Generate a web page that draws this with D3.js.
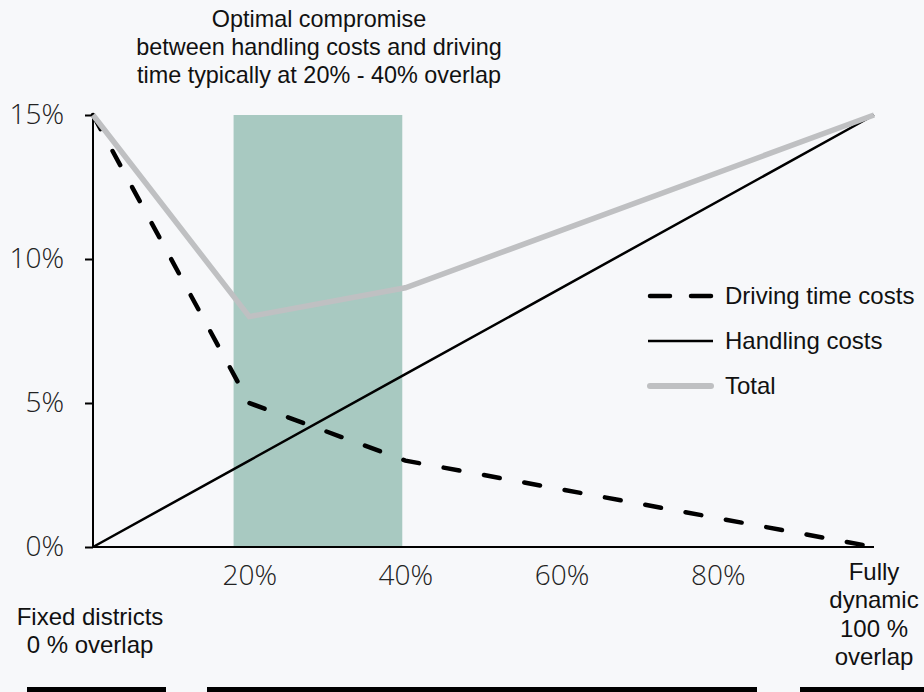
<!DOCTYPE html>
<html>
<head>
<meta charset="utf-8">
<script src="https://cdn.jsdelivr.net/npm/d3@7"></script>
<style>
  html, body { margin: 0; padding: 0; background: #f7f8fa; }
  svg { display: block; }
</style>
</head>
<body>
<svg id="chart" width="924" height="692"></svg>
<script>
// Overlap share (%) at which each cost curve has a vertex
const overlap = [0, 20, 40, 100];
// Cost shares (%) per series at those overlap levels
const drivingCosts = [15, 5, 3, 0];
const handlingCosts = [0, 3, 6, 15];
const totalCosts = [15, 8, 9, 15];

const yTickValues = [0, 5, 10, 15];
const xTickValues = [20, 40, 60, 80];
// Typical optimum range of overlap (%)
const optimumRange = [18, 39.6];

const titleLines = ["Optimal compromise", "between handling costs and driving", "time typically at 20% - 40% overlap"];
const leftLabel = ["Fixed districts", "0 % overlap"];
const rightLabel = ["Fully", "dynamic", "100 %", "overlap"];
const legendItems = ["Driving time costs", "Handling costs", "Total"];

const svg = d3.select("#chart");
const W = 924, H = 692;

svg.append("rect").attr("width", W).attr("height", H).attr("fill", "#f7f8fa");

const x = d3.scaleLinear().domain([0, 100]).range([93, 874]);
const y = d3.scaleLinear().domain([0, 15]).range([547, 115]);

const sansFont = "'Liberation Sans', Arial, sans-serif";
const tickFont = "'Open Sans', sans-serif";

// Optimum band
svg.append("rect")
  .attr("x", x(optimumRange[0]))
  .attr("y", y(15))
  .attr("width", x(optimumRange[1]) - x(optimumRange[0]))
  .attr("height", y(0) - y(15))
  .attr("fill", "#a8c9c1");

// Y axis
const yAxis = svg.append("g")
  .attr("transform", `translate(${x(0)},0)`)
  .call(d3.axisLeft(y).tickValues(yTickValues).tickFormat(d => d + "%").tickSize(8).tickPadding(21));
yAxis.select(".domain").attr("stroke", "#000").attr("stroke-width", 2).attr("d", `M0,${y(15)}V${y(0)}`);
yAxis.selectAll(".tick line").attr("stroke", "#000").attr("stroke-width", 2);
yAxis.selectAll(".tick text")
  .attr("font-family", tickFont).attr("font-weight", 300).attr("font-size", 28)
  .attr("fill", "#222");

// X axis
const xAxis = svg.append("g")
  .attr("transform", `translate(0,${y(0)})`)
  .call(d3.axisBottom(x).tickValues(xTickValues).tickFormat(d => d + "%").tickSize(0).tickPadding(18));
xAxis.select(".domain").attr("stroke", "#000").attr("stroke-width", 2).attr("d", `M${x(0)},0H${x(100)}`);
xAxis.selectAll(".tick text")
  .attr("font-family", tickFont).attr("font-weight", 300).attr("font-size", 28)
  .attr("fill", "#222");

const line = d3.line().x(d => x(d[0])).y(d => y(d[1]));
const pts = vals => overlap.map((o, i) => [o, vals[i]]);

// Cost curves
svg.append("path").datum(pts(drivingCosts)).attr("d", line)
  .attr("fill", "none").attr("stroke", "#000").attr("stroke-width", 4.5)
  .attr("stroke-linecap", "round").attr("stroke-dasharray", "16,25");
svg.append("path").datum(pts(handlingCosts)).attr("d", line)
  .attr("fill", "none").attr("stroke", "#000").attr("stroke-width", 2.5);
svg.append("path").datum(pts(totalCosts)).attr("d", line)
  .attr("fill", "none").attr("stroke", "#bfc0c2").attr("stroke-width", 5.5)
  .attr("stroke-linejoin", "miter");

// Legend
const legendStyles = [
  { stroke: "#000", width: 4.5, dash: "20,21", cap: "round" },
  { stroke: "#000", width: 2.5, dash: null, cap: "butt" },
  { stroke: "#bfc0c2", width: 6, dash: null, cap: "round" }
];
const legend = svg.append("g");
legendItems.forEach((name, i) => {
  const cy = 296 + i * 45;
  const s = legendStyles[i];
  legend.append("line")
    .attr("x1", s.cap === "round" ? 650 : 648).attr("x2", s.cap === "round" ? 711 : 713)
    .attr("y1", cy).attr("y2", cy)
    .attr("stroke", s.stroke).attr("stroke-width", s.width)
    .attr("stroke-linecap", s.cap)
    .attr("stroke-dasharray", s.dash);
  legend.append("text")
    .attr("x", 725).attr("y", cy).attr("dy", "0.35em")
    .attr("font-family", sansFont).attr("font-size", 24).attr("fill", "#111")
    .text(name);
});

// Multi-line labels
function multiline(lines, cx, firstBaseline, step, size) {
  const t = svg.append("text")
    .attr("text-anchor", "middle")
    .attr("font-family", sansFont).attr("font-size", size).attr("fill", "#111");
  lines.forEach((l, i) => {
    t.append("tspan").attr("x", cx).attr("y", firstBaseline + i * step).text(l);
  });
}
multiline(titleLines, 319, 27, 28, 23.4);
multiline(leftLabel, 90, 625, 28, 24);
multiline(rightLabel, x(100), 580, 28.4, 24);

// Bottom bars
const bars = [[27, 166], [207, 757], [800, 930]];
svg.selectAll("rect.bottom").data(bars).enter().append("rect")
  .attr("class", "bottom")
  .attr("x", d => d[0]).attr("y", 687)
  .attr("width", d => d[1] - d[0]).attr("height", 10)
  .attr("fill", "#000");
</script>
</body>
</html>
